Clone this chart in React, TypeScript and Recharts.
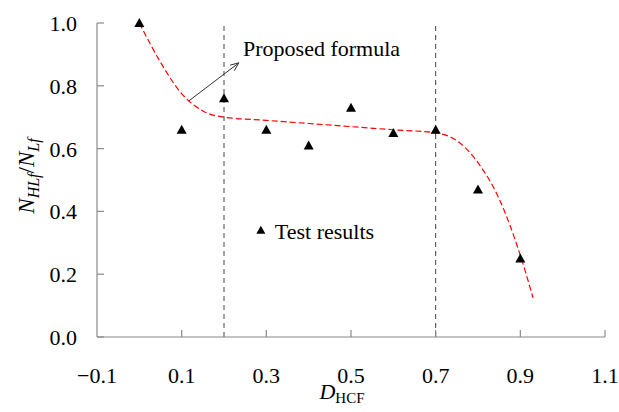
import React from 'react';
import {
  ComposedChart, Line, Scatter, XAxis, YAxis, ReferenceLine, ReferenceDot
} from 'recharts';

// proposed formula curve (red dashed)
const curveX = [0, 0.05, 0.1, 0.15, 0.2, 0.3, 0.4, 0.5, 0.6, 0.7, 0.75, 0.8, 0.85, 0.9, 0.93];
const curveY = [1.0, 0.875, 0.775, 0.72, 0.70, 0.69, 0.68, 0.67, 0.66, 0.65, 0.625, 0.555, 0.44, 0.26, 0.125];

// test results (triangles)
const testX = [0, 0.1, 0.2, 0.3, 0.4, 0.5, 0.6, 0.7, 0.8, 0.9];
const testY = [1.0, 0.66, 0.76, 0.66, 0.61, 0.73, 0.65, 0.66, 0.47, 0.25];

const xTicks = [-0.1, 0.1, 0.3, 0.5, 0.7, 0.9, 1.1];
const yTicks = [0, 0.2, 0.4, 0.6, 0.8, 1.0];
const boundaries = [0.2, 0.7];

const FONT = '"Liberation Serif", "Times New Roman", serif';
const AXIS_COLOR = '#8a8a8a';

const curveData = curveX.map((x, i) => ({ x, y: curveY[i] }));
const testData = testX.map((x, i) => ({ x, y: testY[i] }));

const fmt = (v: number) => (v < 0 ? '\u2212' + Math.abs(v).toFixed(1) : v.toFixed(1));

const Triangle = (props: any) => {
  const { cx, cy } = props;
  if (cx == null || cy == null) return null;
  return <path d={`M${cx},${cy - 5} L${cx + 5},${cy + 4} L${cx - 5},${cy + 4} Z`} fill="#000" />;
};

const XTick = (props: any) => {
  const { x, y, payload } = props;
  return (
    <g>
      {payload.value > -0.1 && <line x1={x} y1={y} x2={x} y2={y - 7} stroke={AXIS_COLOR} strokeWidth={1.2} />}
      <text x={x} y={y + 46} textAnchor="middle" fontFamily={FONT} fontSize={22} fill="#000">
        {fmt(payload.value)}
      </text>
    </g>
  );
};

const YTick = (props: any) => {
  const { x, y, payload } = props;
  return (
    <g>
      <line x1={x} y1={y} x2={x + 7} y2={y} stroke={AXIS_COLOR} strokeWidth={1.2} />
      <text x={x - 20} y={y + 8} textAnchor="end" fontFamily={FONT} fontSize={22} fill="#000">
        {fmt(payload.value)}
      </text>
    </g>
  );
};

const YLabel = () => (
  <text x={34} y={176} transform="rotate(-90, 34, 176)" textAnchor="middle" fontFamily={FONT} fontSize={23} fill="#000">
    <tspan fontStyle="italic">N</tspan>
    <tspan fontStyle="italic" fontSize={16} dy={5}>HLf</tspan>
    <tspan dy={-5}>/</tspan>
    <tspan fontStyle="italic">N</tspan>
    <tspan fontStyle="italic" fontSize={16} dy={5}>Lf</tspan>
  </text>
);

const XLabel = () => (
  <text x={342} y={399} textAnchor="middle" fontFamily={FONT} fontSize={22} fill="#000">
    <tspan fontStyle="italic">D</tspan>
    <tspan fontSize={15} dy={4}>HCF</tspan>
  </text>
);

const Arrow = (props: any) => {
  const { x1, y1, x2, y2 } = props;
  if (x1 == null) return null;
  const ang = Math.atan2(y2 - y1, x2 - x1);
  const len = 9;
  const a1 = ang + Math.PI - 0.4;
  const a2 = ang + Math.PI + 0.4;
  return (
    <g stroke="#333" strokeWidth={1} fill="none">
      <line x1={x1} y1={y1} x2={x2} y2={y2} />
      <path d={`M${x2 + len * Math.cos(a1)},${y2 + len * Math.sin(a1)} L${x2},${y2} L${x2 + len * Math.cos(a2)},${y2 + len * Math.sin(a2)}`} />
    </g>
  );
};

const FormulaText = (props: any) => (
  <text x={props.cx} y={props.cy} fontFamily={FONT} fontSize={22} fill="#000">Proposed formula</text>
);

const LegendMark = (props: any) => {
  const { cx, cy } = props;
  return (
    <g>
      <path d={`M${cx},${cy - 5} L${cx + 4.5},${cy + 3} L${cx - 4.5},${cy + 3} Z`} fill="#000" />
      <text x={cx + 14} y={cy + 8} fontFamily={FONT} fontSize={22} fill="#000">Test results</text>
    </g>
  );
};

const App = () => {
  return (
    <div style={{ position: 'absolute', left: 0, top: 0, width: 619, height: 412, background: '#fff' }}>
      <ComposedChart width={619} height={412} margin={{ top: 23, right: 14, left: 0, bottom: 0 }}>
        <XAxis
          type="number"
          dataKey="x"
          domain={[-0.1, 1.1]}
          ticks={xTicks}
          tick={<XTick />}
          tickLine={false}
          tickSize={0}
          tickMargin={0}
          height={75}
          stroke={AXIS_COLOR}
          strokeWidth={1.2}
          label={<XLabel />}
        />
        <YAxis
          type="number"
          dataKey="y"
          domain={[0, 1]}
          ticks={yTicks}
          tick={<YTick />}
          tickLine={false}
          tickSize={0}
          tickMargin={0}
          width={97}
          stroke={AXIS_COLOR}
          strokeWidth={1.2}
          label={<YLabel />}
        />
        {boundaries.map((b) => (
          <ReferenceLine key={b} x={b} stroke="#444" strokeWidth={1} strokeDasharray="5 4" />
        ))}
        <Line
          data={curveData}
          dataKey="y"
          type="monotone"
          stroke="#ff0000"
          strokeWidth={1.2}
          strokeDasharray="6 3"
          dot={false}
          isAnimationActive={false}
        />
        <Scatter data={testData} dataKey="y" shape={<Triangle />} isAnimationActive={false} />
        <ReferenceLine segment={[{ x: 0.117, y: 0.752 }, { x: 0.235, y: 0.873 }]} shape={<Arrow />} />
        <ReferenceDot x={0.245} y={0.895} r={0} shape={<FormulaText />} />
        <ReferenceDot x={0.287} y={0.338} r={0} shape={<LegendMark />} />
      </ComposedChart>
    </div>
  );
};

export default App;
